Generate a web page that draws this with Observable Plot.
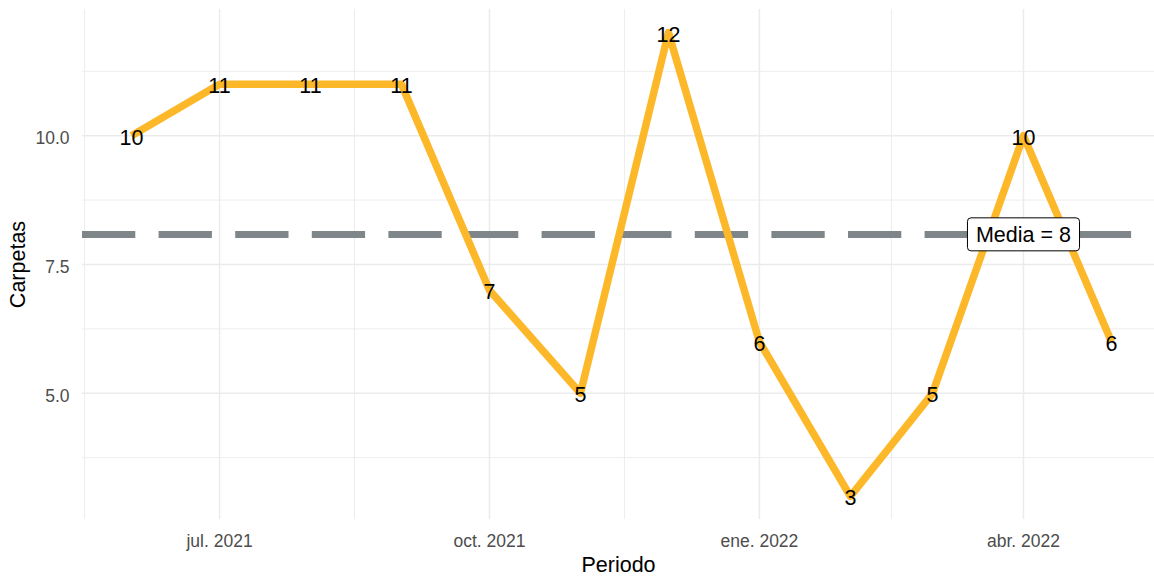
<!DOCTYPE html>
<html>
<head>
<meta charset="utf-8">
<script src="https://cdn.jsdelivr.net/npm/d3@7"></script>
<script src="https://cdn.jsdelivr.net/npm/@observablehq/plot@0.6"></script>
<style>
  html, body { margin: 0; padding: 0; background: #ffffff; }
  svg { display: block; }
</style>
</head>
<body>
<div id="chart"></div>
<script>
// ---- data ----
const periods = ["2021-06-01","2021-07-01","2021-08-01","2021-09-01","2021-10-01","2021-11-01",
                 "2021-12-01","2022-01-01","2022-02-01","2022-03-01","2022-04-01","2022-05-01"];
const carpetas = [10, 11, 11, 11, 7, 5, 12, 6, 3, 5, 10, 6];

const xTickDates = ["2021-07-01","2021-10-01","2022-01-01","2022-04-01"];
const xTickLabels = ["jul. 2021","oct. 2021","ene. 2022","abr. 2022"];
const xMinorDates = ["2021-05-16","2021-08-16","2021-11-16","2022-02-15"];
const yTicks = [5, 7.5, 10];
const yMinor = [3.75, 6.25, 8.75, 11.25];
const meanLabelDate = "2022-04-01";

// ---- build ----
const parse = s => new Date(s + "T00:00:00Z");
const data = periods.map((p, i) => ({date: parse(p), value: carpetas[i]}));
const media = d3.mean(carpetas);

const [d0, d1] = d3.extent(data, d => d.date);
const padT = (d1 - d0) * 0.05;
const [v0, v1] = d3.extent(carpetas);
const padV = (v1 - v0) * 0.05;

const tickMap = new Map(xTickDates.map((d, i) => [+parse(d), xTickLabels[i]]));
const font = "'Liberation Sans', Arial, sans-serif";

const plot = Plot.plot({
  width: 1154,
  height: 577,
  marginLeft: 82,
  marginRight: 0,
  marginTop: 9,
  marginBottom: 58,
  style: {fontFamily: font, background: "#ffffff"},
  x: {type: "utc", domain: [new Date(+d0 - padT), new Date(+d1 + padT)], range: [82, 1160]},
  y: {domain: [v0 - padV, v1 + padV]},
  marks: [
    Plot.gridY(yMinor, {stroke: "#ebebeb", strokeOpacity: 1, strokeWidth: 0.9}),
    Plot.gridX(xMinorDates.map(parse), {stroke: "#ebebeb", strokeOpacity: 1, strokeWidth: 0.9}),
    Plot.gridY(yTicks, {stroke: "#ebebeb", strokeOpacity: 1, strokeWidth: 1.5}),
    Plot.gridX(xTickDates.map(parse), {stroke: "#ebebeb", strokeOpacity: 1, strokeWidth: 1.5}),
    Plot.axisY(yTicks, {tickSize: 0, tickPadding: 13, fontSize: 17.5, fill: "#4d4d4d",
      tickFormat: d => d.toFixed(1), label: null, dy: 3}),
    Plot.axisX(xTickDates.map(parse), {tickSize: 0, tickPadding: 15, fontSize: 17.5, fill: "#4d4d4d",
      tickFormat: d => tickMap.get(+d), label: null}),
    Plot.text(["Carpetas"], {frameAnchor: "left", rotate: -90, dx: -64, fontSize: 21.5,
      fill: "#000000", lineAnchor: "middle", textAnchor: "middle"}),
    Plot.text(["Periodo"], {frameAnchor: "bottom", dy: 46, fontSize: 21.5,
      fill: "#000000", lineAnchor: "middle", textAnchor: "middle"}),
    Plot.ruleY([media], {stroke: "#7f868a", strokeWidth: 7, strokeDasharray: "53.3 23.3"}),
    Plot.line(data, {x: "date", y: "value", stroke: "#fdb82a", strokeWidth: 7.5,
      strokeLinecap: "butt", strokeLinejoin: "round"}),
    Plot.text(data, {x: "date", y: "value", text: d => String(d.value), fontSize: 21.5,
      fill: "#000000", lineAnchor: "middle", dy: 2}),
    Plot.text([{date: parse(meanLabelDate), value: media}], {x: "date", y: "value",
      text: d => "Media = " + Math.round(d.value), fontSize: 21.5, fill: "#000000",
      lineAnchor: "middle", dy: 1, className: "media-label"})
  ]
});

document.getElementById("chart").appendChild(plot);

// white rounded box behind the mean label (sized from the text's own bbox)
const lab = plot.querySelector(".media-label text");
if (lab) {
  const bb = lab.getBBox();
  const padX = 8.5, h = 33;
  const rect = document.createElementNS("http://www.w3.org/2000/svg", "rect");
  rect.setAttribute("x", bb.x - padX);
  rect.setAttribute("y", bb.y + bb.height / 2 - h / 2 - 1);
  rect.setAttribute("width", bb.width + 2 * padX);
  rect.setAttribute("height", h);
  rect.setAttribute("rx", 3.5);
  rect.setAttribute("ry", 3.5);
  rect.setAttribute("fill", "#ffffff");
  rect.setAttribute("stroke", "#000000");
  rect.setAttribute("stroke-width", 1);
  const t = lab.getAttribute("transform");
  if (t) rect.setAttribute("transform", t);
  lab.parentNode.insertBefore(rect, lab);
}
</script>
</body>
</html>
